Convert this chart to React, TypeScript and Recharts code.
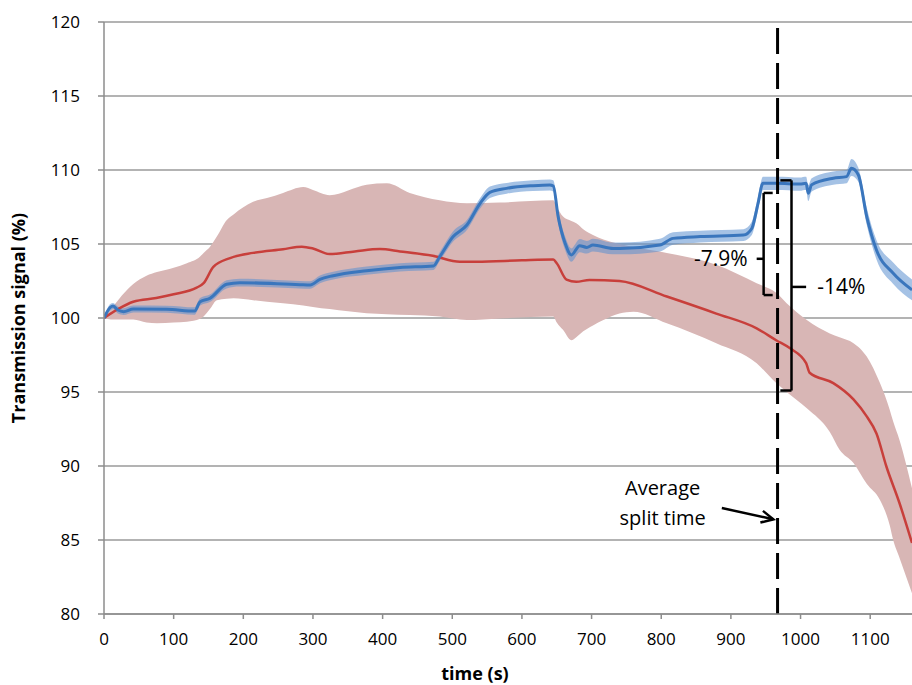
import React from 'react';
import {
  ComposedChart,
  Line,
  Area,
  XAxis,
  YAxis,
  CartesianGrid,
  ReferenceLine,
  ReferenceDot,
} from 'recharts';

// Daten
const xTicks = [0, 100, 200, 300, 400, 500, 600, 700, 800, 900, 1000, 1100];
const yTicks = [80, 85, 90, 95, 100, 105, 110, 115, 120];

// rote Mittelwertkurve
const redTime = [0, 20, 42, 75, 100, 133, 143, 157, 181, 214, 257, 284, 300, 324, 360, 396, 425, 472, 511, 535, 600, 645, 650, 664, 678, 697, 740, 808, 879, 937, 965, 985, 1008, 1013, 1047, 1076, 1095, 1109, 1123, 1142, 1160];
const redMean = [100, 100.6, 101.1, 101.35, 101.6, 102.05, 102.35, 103.45, 104.05, 104.4, 104.65, 104.82, 104.7, 104.32, 104.5, 104.66, 104.5, 104.2, 103.8, 103.8, 103.9, 103.95, 103.7, 102.6, 102.45, 102.57, 102.5, 101.45, 100.3, 99.3, 98.5, 97.95, 96.95, 96.3, 95.6, 94.5, 93.35, 92.2, 90.0, 87.5, 84.8];

// rosa Streuband
const pinkTime = [0, 10, 42, 61, 76, 100, 119, 138, 143, 152, 162, 176, 186, 214, 234, 257, 286, 300, 324, 377, 406, 439, 482, 521, 568, 645, 650, 659, 671, 678, 688, 702, 717, 740, 760, 808, 879, 937, 965, 980, 1009, 1042, 1056, 1076, 1095, 1114, 1128, 1133, 1142, 1160];
const pinkLow = [100, 99.9, 99.9, 99.7, 99.65, 99.7, 99.75, 99.95, 100.1, 100.6, 101.2, 101.3, 101.33, 101.2, 101.1, 101.0, 100.85, 100.75, 100.6, 100.32, 100.25, 100.2, 100.1, 99.86, 99.97, 100.1, 99.7, 99.2, 98.5, 98.7, 99.1, 99.5, 99.86, 100.3, 100.43, 99.64, 98.3, 96.94, 95.6, 95.0, 93.9, 92.3, 91.1, 90.2, 88.8, 87.7, 86.0, 85.0, 83.8, 81.4];
const pinkHigh = [100, 100.6, 102.3, 102.85, 103.1, 103.4, 103.7, 104.15, 104.4, 104.8, 105.5, 106.6, 107.0, 107.85, 108.1, 108.45, 108.85, 108.65, 108.3, 109.0, 109.1, 108.45, 107.95, 107.75, 107.8, 107.95, 107.5, 106.85, 106.55, 106.4, 106.0, 105.6, 105.3, 105.0, 104.8, 104.4, 103.6, 102.35, 101.7, 101.0, 99.86, 98.96, 98.7, 98.3, 97.4, 95.6, 93.8, 93.0, 91.76, 88.5];

// blaue Mittelwertkurve und Band
const blueTime = [0, 9, 13, 20, 28, 42, 90, 130, 138, 152, 176, 195, 281, 296, 310, 329, 377, 425, 473, 482, 501, 521, 540, 554, 578, 616, 640, 645, 652, 662, 671, 683, 693, 702, 731, 741, 798, 817, 856, 918, 930, 939, 946, 966, 999, 1008, 1011, 1016, 1047, 1066, 1073, 1083, 1095, 1109, 1133, 1160];
const blueMean = [100, 100.72, 100.81, 100.54, 100.43, 100.61, 100.59, 100.47, 101.1, 101.33, 102.28, 102.39, 102.25, 102.23, 102.61, 102.86, 103.2, 103.42, 103.52, 104.14, 105.49, 106.28, 107.75, 108.49, 108.76, 108.94, 108.99, 108.92, 106.85, 105.05, 104.26, 104.89, 104.77, 104.93, 104.7, 104.7, 104.93, 105.38, 105.5, 105.6, 106.05, 107.75, 109.1, 109.1, 109.05, 109.1, 108.43, 109.0, 109.44, 109.55, 110.11, 109.66, 106.85, 104.6, 103.02, 101.9];
const blueLow = [99.95, 100.5, 100.6, 100.3, 100.2, 100.38, 100.35, 100.22, 100.85, 101.08, 102.0, 102.12, 102.0, 101.98, 102.35, 102.6, 102.92, 103.15, 103.25, 103.85, 105.15, 105.95, 107.4, 108.1, 108.4, 108.58, 108.62, 108.55, 106.4, 104.6, 103.8, 104.45, 104.35, 104.5, 104.3, 104.3, 104.5, 104.95, 105.1, 105.2, 105.6, 107.3, 108.65, 108.65, 108.6, 108.65, 107.9, 108.55, 109.0, 109.1, 109.6, 109.2, 106.3, 103.95, 102.3, 101.2];
const blueHigh = [100.05, 100.95, 101.02, 100.78, 100.66, 100.84, 100.83, 100.72, 101.35, 101.58, 102.55, 102.66, 102.5, 102.48, 102.87, 103.12, 103.48, 103.7, 103.8, 104.45, 105.85, 106.62, 108.1, 108.88, 109.12, 109.3, 109.36, 109.3, 107.3, 105.5, 104.7, 105.33, 105.2, 105.36, 105.1, 105.1, 105.36, 105.8, 105.9, 106.0, 106.5, 108.2, 109.55, 109.55, 109.5, 109.55, 109.0, 109.45, 109.9, 110.0, 110.75, 110.15, 107.45, 105.25, 103.75, 102.6];

const pinkRows = pinkTime.map((t, i) => ({ t, range: [pinkLow[i], pinkHigh[i]] }));
const blueBandRows = blueTime.map((t, i) => ({ t, range: [blueLow[i], blueHigh[i]] }));
const redRows = redTime.map((t, i) => ({ t, v: redMean[i] }));
const blueRows = blueTime.map((t, i) => ({ t, v: blueMean[i] }));

const FONT = '"Open Sans", sans-serif';

function Arrow(props: any) {
  const { x1, y1, x2, y2 } = props;
  const ang = Math.atan2(y2 - y1, x2 - x1);
  const len = 12;
  const w = 6;
  const bx = x2 - len * Math.cos(ang);
  const by = y2 - len * Math.sin(ang);
  const px = -Math.sin(ang) * w;
  const py = Math.cos(ang) * w;
  return (
    <g>
      <line x1={x1} y1={y1} x2={x2} y2={y2} stroke="#000" strokeWidth={2.5} />
      <polyline
        points={`${bx + px},${by + py} ${x2},${y2} ${bx - px},${by - py}`}
        fill="none"
        stroke="#000"
        strokeWidth={2.5}
      />
    </g>
  );
}

const bracket = { stroke: '#000', strokeWidth: 2.5 };
const annot = { fontFamily: FONT, fontSize: 21, fill: '#000' };

export default function App() {
  return (
    <div style={{ position: 'absolute', left: 0, top: 0, background: '#fff' }}>
      <ComposedChart
        width={912}
        height={685}
        margin={{ top: 22, right: 0, left: 0, bottom: 0 }}
      >
        <CartesianGrid vertical={false} stroke="#9a9a9a" strokeWidth={1.5} />
        <XAxis
          dataKey="t"
          type="number"
          domain={[0, 1160]}
          ticks={xTicks}
          allowDataOverflow
          height={71}
          stroke="#8c8c8c"
          strokeWidth={1.5}
          tickSize={5}
          tickMargin={14}
          tick={{ fill: '#000', fontSize: 17, fontFamily: FONT }}
          label={{
            value: 'time (s)',
            position: 'insideBottom',
            offset: 5,
            dx: -33,
            style: { fontFamily: FONT, fontSize: 18, fontWeight: 700, fill: '#000' },
          }}
        />
        <YAxis
          type="number"
          domain={[80, 120]}
          ticks={yTicks}
          allowDataOverflow
          width={104}
          stroke="#8c8c8c"
          strokeWidth={1.5}
          tickSize={6}
          tickMargin={18}
          tick={{ fill: '#000', fontSize: 17, fontFamily: FONT }}
          label={{
            value: 'Transmission signal (%)',
            angle: -90,
            position: 'insideLeft',
            offset: 19,
            style: { fontFamily: FONT, fontSize: 18, fontWeight: 700, fill: '#000', textAnchor: 'middle' },
          }}
        />

        <Area
          data={pinkRows}
          dataKey="range"
          type="monotone"
          stroke="none"
          fill="#d8b6b5"
          fillOpacity={1}
          isAnimationActive={false}
        />
        <Area
          data={blueBandRows}
          dataKey="range"
          type="monotone"
          stroke="none"
          fill="#5b8fd0"
          fillOpacity={0.55}
          isAnimationActive={false}
        />
        <Line
          data={redRows}
          dataKey="v"
          type="monotone"
          stroke="#c83f3b"
          strokeWidth={2.5}
          dot={false}
          isAnimationActive={false}
        />
        <Line
          data={blueRows}
          dataKey="v"
          type="monotone"
          stroke="#3a76bd"
          strokeWidth={3}
          dot={false}
          isAnimationActive={false}
        />

        <ReferenceLine x={967} stroke="#000" strokeWidth={3} strokeDasharray="26 9" />

        {/* Klammer -7.9% */}
        <ReferenceLine segment={[{ x: 947, y: 108.45 }, { x: 947, y: 101.55 }]} {...bracket} />
        <ReferenceLine segment={[{ x: 947, y: 108.45 }, { x: 960, y: 108.45 }]} {...bracket} />
        <ReferenceLine segment={[{ x: 947, y: 101.55 }, { x: 960, y: 101.55 }]} {...bracket} />
        <ReferenceLine segment={[{ x: 937, y: 104.0 }, { x: 947, y: 104.0 }]} {...bracket} />

        {/* Klammer -14% */}
        <ReferenceLine segment={[{ x: 987, y: 109.3 }, { x: 987, y: 95.1 }]} {...bracket} />
        <ReferenceLine segment={[{ x: 971, y: 109.3 }, { x: 987, y: 109.3 }]} {...bracket} />
        <ReferenceLine segment={[{ x: 971, y: 95.1 }, { x: 987, y: 95.1 }]} {...bracket} />
        <ReferenceLine segment={[{ x: 987, y: 102.1 }, { x: 1008, y: 102.1 }]} {...bracket} />

        <ReferenceDot x={924} y={104.0} r={0} stroke="none" label={{ value: '-7.9%', position: 'left', offset: 0, style: annot }} />
        <ReferenceDot x={1024} y={102.1} r={0} stroke="none" label={{ value: '-14%', position: 'right', offset: 0, style: annot }} />

        <ReferenceDot x={802} y={88.5} r={0} stroke="none" label={{ value: 'Average', position: 'center', style: { ...annot, fontSize: 20 } }} />
        <ReferenceDot x={802} y={86.5} r={0} stroke="none" label={{ value: 'split time', position: 'center', style: { ...annot, fontSize: 20 } }} />
        <ReferenceLine segment={[{ x: 887, y: 87.16 }, { x: 961, y: 86.4 }]} shape={(p: any) => <Arrow {...p} />} />
      </ComposedChart>
    </div>
  );
}
